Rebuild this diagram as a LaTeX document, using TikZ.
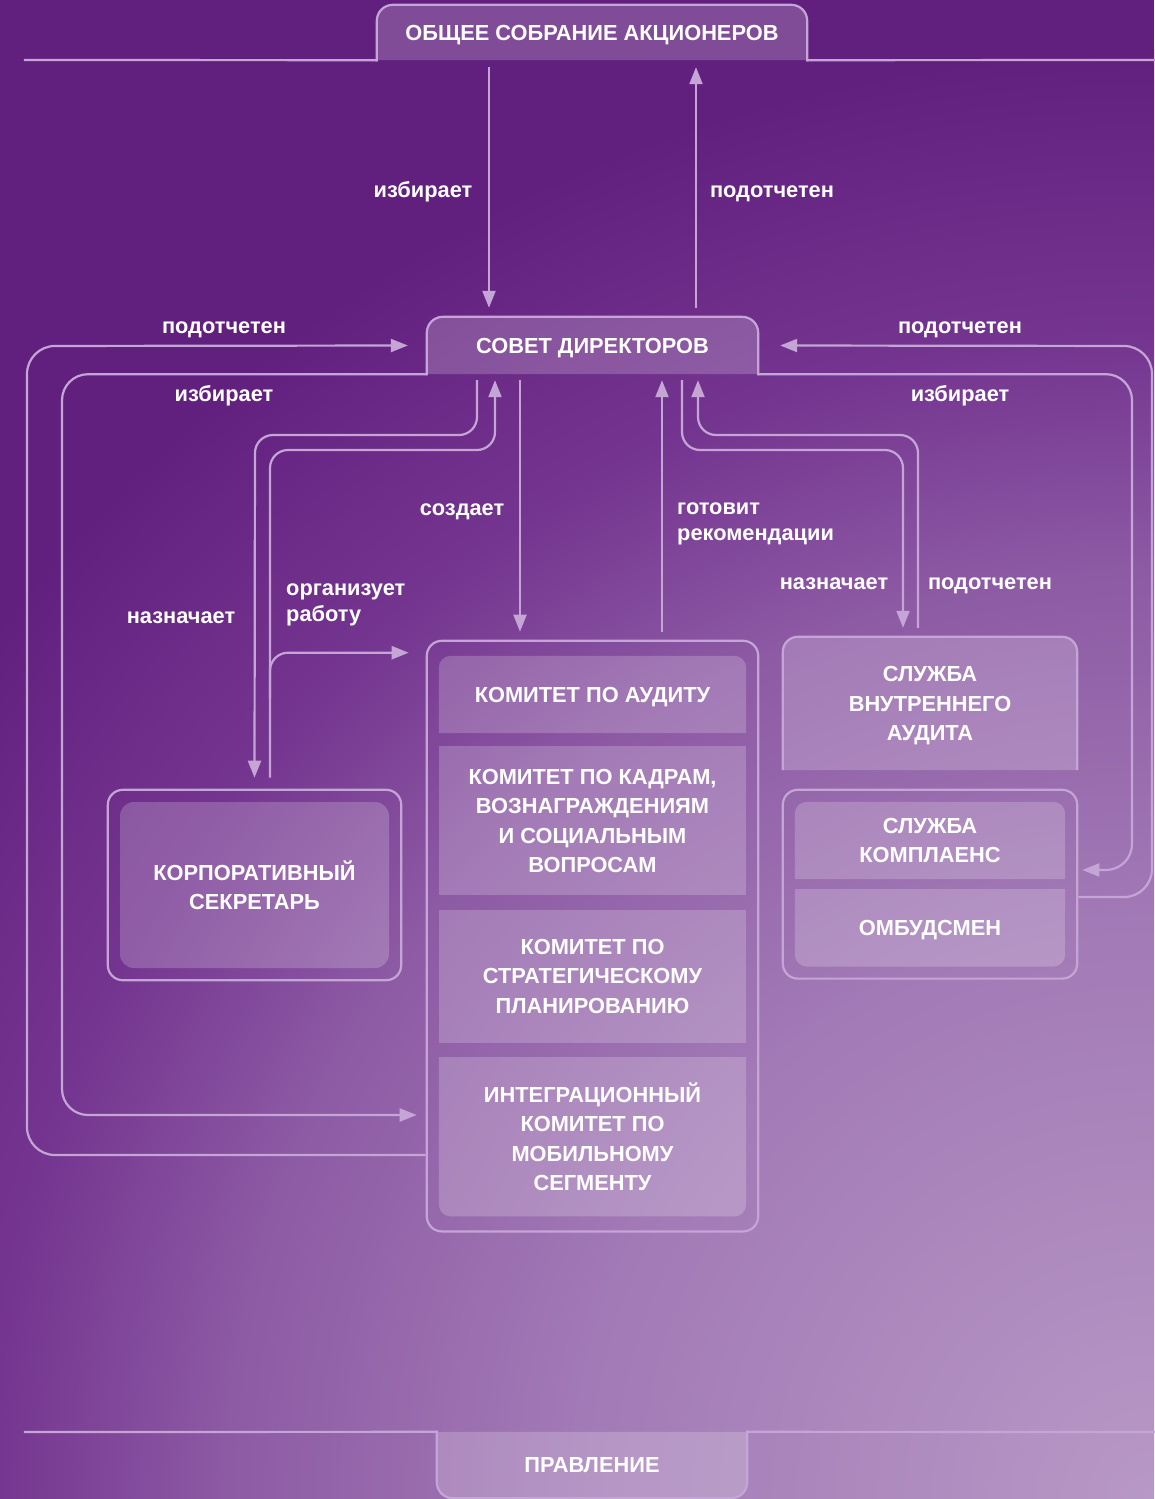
\documentclass[tikz,border=0pt]{standalone}
\usepackage{fontspec}
\setmainfont{Liberation Sans}
\usetikzlibrary{
  arrows.meta,
  positioning,
  calc,
  fit
}

\definecolor{bgdark}{HTML}{62207E}
\definecolor{bgdeep}{HTML}{743590}
\definecolor{bgmid}{HTML}{8D5AA4}
\definecolor{bgsoft}{HTML}{A27AB6}
\definecolor{bglight}{HTML}{B898C6}
\definecolor{wire}{HTML}{C4A5D5}

\pgfdeclareradialshading{glow}{\pgfpoint{0bp}{0bp}}{%
  color(0bp)=(bglight); color(10bp)=(bgsoft); color(16bp)=(bgmid);
  color(20bp)=(bgdeep); color(25bp)=(bgdark); color(50bp)=(bgdark)}

\newcommand\boxfont{\fontsize{21.8}{29.5}\selectfont\bfseries}
\newcommand\lblfont{\fontsize{21.8}{26.5}\selectfont\bfseries}

\begin{document}
\begin{tikzpicture}[x=1pt, y=-1pt, >={Triangle[length=17pt,width=13pt]},
  wire/.style={draw=wire, line width=2.2pt},
  panel/.style={fill=white, fill opacity=0.2, text opacity=1},
  unitbox/.style={text=white, font=\boxfont, align=center, inner sep=0pt, text depth=0pt},
  lbl/.style={text=white, font=\lblfont, inner sep=0pt, text height=15.5pt, text depth=4.5pt}]

% background
\useasboundingbox (0,0) rectangle (1154,1499);
\begin{scope}
\clip (0,0) rectangle (1154,1499);
\fill[bgdark] (0,0) rectangle (1154,1499);
\shade[shading=glow] (1154,1499) circle[radius=1450pt];
\end{scope}

% tabs
\node[unitbox, minimum width=430pt, minimum height=55pt] (gsm) at (592,32.5) {ОБЩЕЕ СОБРАНИЕ АКЦИОНЕРОВ};
\node[unitbox, minimum width=331pt, minimum height=57pt] (board) at (592.5,345.5) {СОВЕТ ДИРЕКТОРОВ};
\node[unitbox, minimum width=310pt, minimum height=66pt] (exec) at (592,1465) {ПРАВЛЕНИЕ};

\path[panel, wire, line cap=rect, rounded corners=16pt] (gsm.south west) -- (gsm.north west) -- (gsm.north east) -- (gsm.south east);
\draw[wire, line cap=rect] (25,60) -- (gsm.south west);
\draw[wire, line cap=rect] (gsm.south east) -- (1154,60);
\path[panel, wire, line cap=rect, rounded corners=16pt] (board.south west) -- (board.north west) -- (board.north east) -- (board.south east);
\path[panel, wire, line cap=rect, rounded corners=16pt] (exec.north west) -- (exec.south west) -- (exec.south east) -- (exec.north east);
\draw[wire, line cap=rect] (25,1432) -- (exec.north west);
\draw[wire, line cap=rect] (exec.north east) -- (1154,1432);

% committees
\node[unitbox, minimum width=307pt, minimum height=77pt] (audcom) at (592.5,694.5) {КОМИТЕТ ПО АУДИТУ};
\node[unitbox, panel, minimum width=307pt, minimum height=149pt, below=13pt of audcom] (hrcom)
  {КОМИТЕТ ПО КАДРАМ,\\ВОЗНАГРАЖДЕНИЯМ\\И СОЦИАЛЬНЫМ\\ВОПРОСАМ};
\node[unitbox, panel, minimum width=307pt, minimum height=133pt, below=14pt of hrcom] (stratcom)
  {КОМИТЕТ ПО\\СТРАТЕГИЧЕСКОМУ\\ПЛАНИРОВАНИЮ};
\node[unitbox, minimum width=307pt, minimum height=159pt, below=14pt of stratcom] (mobcom)
  {ИНТЕГРАЦИОННЫЙ\\КОМИТЕТ ПО\\МОБИЛЬНОМУ\\СЕГМЕНТУ};
\path[panel, rounded corners=12pt] (audcom.south west) -- (audcom.north west) -- (audcom.north east) -- (audcom.south east);
\path[panel, rounded corners=12pt] (mobcom.north west) -- (mobcom.south west) -- (mobcom.south east) -- (mobcom.north east);
\node[wire, rounded corners=15pt, fit=(audcom)(mobcom), inner xsep=12pt, inner ysep=15pt] (comframe) {};

% secretary
\node[unitbox, panel, rounded corners=14pt, minimum width=269pt, minimum height=166pt] (secretary) at (254.5,885)
  {КОРПОРАТИВНЫЙ\\СЕКРЕТАРЬ};
\node[wire, rounded corners=15pt, fit=(secretary), inner sep=12pt] (secframe) {};

% internal audit, compliance
\node[unitbox, minimum width=294pt, minimum height=133pt] (iaudit) at (930,703.5) {СЛУЖБА\\ВНУТРЕННЕГО\\АУДИТА};
\path[panel, wire, rounded corners=15pt] (iaudit.south west) -- (iaudit.north west) -- (iaudit.north east) -- (iaudit.south east);
\node[unitbox, minimum width=270pt, minimum height=77pt] (compl) at (930,840.5) {СЛУЖБА\\КОМПЛАЕНС};
\node[unitbox, minimum width=270pt, minimum height=77pt, below=10pt of compl] (ombud) {ОМБУДСМЕН};
\path[panel, rounded corners=12pt] (compl.south west) -- (compl.north west) -- (compl.north east) -- (compl.south east);
\path[panel, rounded corners=12pt] (ombud.north west) -- (ombud.south west) -- (ombud.south east) -- (ombud.north east);
\node[wire, rounded corners=15pt, fit=(compl)(ombud), inner sep=12pt] (compframe) {};

% connectors
\draw[wire,->] ($(gsm.south)+(-103,7)$) -- ($(board.north)+(-103.5,-9)$);
\draw[wire,->] ($(board.north)+(103.5,-9)$) -- ($(gsm.south)+(104,7)$);
\draw[wire,->,rounded corners=26pt] (board.south west) -| (62,1115) -- ($(comframe.west |- 0,1115)+(-9,0)$);
\draw[wire,->,rounded corners=28pt] (comframe.west |- 0,1155) -| (27,346) -- ([xshift=-19pt]board.west);
\draw[wire,->,rounded corners=26pt] (board.south east) -| (1132,870) -- ($(compframe.east |- 0,870)+(4,0)$);
\draw[wire,->,rounded corners=28pt] (compframe.east |- 0,897) -| (1152,346) -- ([xshift=22pt]board.east);

\draw[wire,->,rounded corners=18pt] ($(board.south)+(-115.5,6)$) |- (255,435) -- ([yshift=11pt]secframe.north);
\draw[wire,->,rounded corners=18pt] ($(secframe.north)+(15.5,-11)$) |- (495,450) -- ($(board.south)+(-97.5,6)$);
\draw[wire,->,rounded corners=18pt] ($(secframe.north)+(15.5,-90)$) |- ($(comframe.north west)+(-17,13)$);
\draw[wire,->] ($(board.south)+(-72.5,6)$) -- ($(comframe.north)+(-72.5,-8)$);
\draw[wire,->] ($(comframe.north)+(69.5,-8)$) -- ($(board.south)+(69.5,6)$);
\draw[wire,->,rounded corners=18pt] ($(board.south)+(89.5,6)$) |- (903,450) -- ($(iaudit.north)+(-27,-9)$);
\draw[wire,->,rounded corners=18pt] ($(iaudit.north)+(-12,-9)$) |- (698,435) -- ($(board.south)+(105.5,6)$);

% labels
\node[lbl] (t-elect) at (423,191.5) {избирает};
\node[lbl] (t-report) at (772,191.5) {подотчетен};
\node[lbl] (l-report) at (224,327.5) {подотчетен};
\node[lbl] (l-elect) at (224,395.5) {избирает};
\node[lbl] (r-report) at (960,327.5) {подотчетен};
\node[lbl] (r-elect) at (960,395.5) {избирает};
\node[lbl] (m-create) at (462,509.5) {создает};
\node[lbl, align=left, anchor=west, text height=, text depth=] (m-advise) at (677,524) {готовит\\рекомендации};
\node[lbl] (s-appoint) at (181,617.5) {назначает};
\node[lbl, align=left, anchor=west, text height=, text depth=] (s-organize) at (286,605) {организует\\работу};
\node[lbl] (a-appoint) at (834,583.5) {назначает};
\node[lbl] (a-report) at (990,583.5) {подотчетен};
\end{tikzpicture}
\end{document}
